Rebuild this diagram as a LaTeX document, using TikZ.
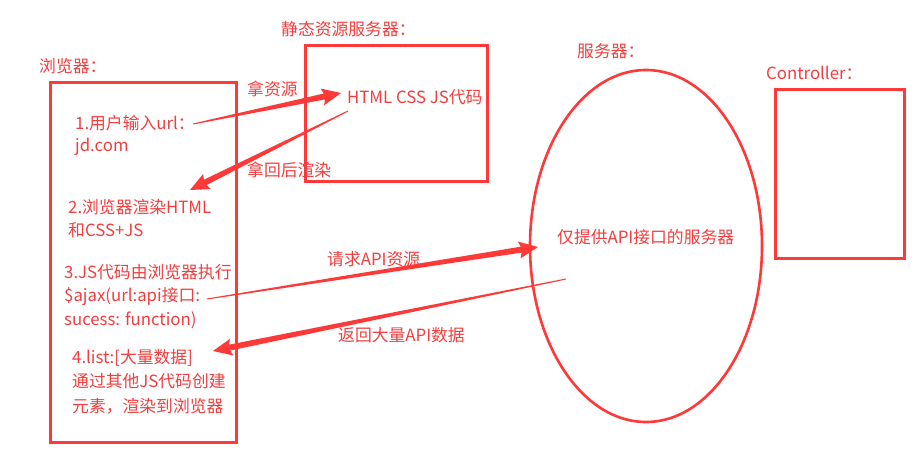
\documentclass[tikz,border=0pt]{standalone}
\usepackage{fontspec}
\setmainfont{Noto Sans CJK SC}
\usetikzlibrary{calc}
\definecolor{redline}{RGB}{255,56,56}
\definecolor{redtext}{RGB}{242,62,62}
\tikzset{
  frame/.style={draw=redline, line width=3pt, inner sep=0pt},
  txt/.style={anchor=base west, inner sep=0pt, text=redtext, font=\fontsize{16.8pt}{20pt}\selectfont},
  arrowfill/.style={fill=redline},
}
\newcommand\taper[2]{%
  \path let \p1=($(#2)-(#1)$) in \pgfextra{%
    \pgfmathsetmacro\tang{atan2(\y1,\x1)}%
    \pgfmathsetmacro\tlen{veclen(\x1,\y1)}%
    \xdef\tang{\tang}\xdef\tlen{\tlen}};
  \fill[arrowfill, shift={(#1)}, rotate=\tang]
    (0,0.5) -- (\tlen-17,3) -- (\tlen-19,8.5) -- (\tlen,0) -- (\tlen-19,-8.5) -- (\tlen-17,-3) -- (0,-0.5) -- cycle;
}
\begin{document}
\begin{tikzpicture}[x=1pt,y=-1pt]
\useasboundingbox (0,0) rectangle (923,465);
\fill[white] (0,0) rectangle (923,465);

% boxes
\node[frame, minimum width=186pt, minimum height=359pt] (browser) at (143,262.5) {};
\node[frame, minimum width=182pt, minimum height=136pt] (static) at (396,114) {};
\node[frame, minimum width=129pt, minimum height=168pt] (ctrl) at (839.5,174) {};
\draw[redline, line width=2.6pt] (646,246) ellipse [x radius=116, y radius=176];
\coordinate (server) at (646,246);

% titles
\node[txt] (tbrowser) at (39,73) {浏览器：};
\node[txt] (tstatic) at (281,36) {静态资源服务器：};
\node[txt] (tserver) at (577,58) {服务器：};
\node[txt] (tctrl) at (766,80) {Controller：};

% contents
\node[txt] (code) at (347,104) {HTML CSS JS代码};
\node[txt] (api) at (557,243) {仅提供API接口的服务器};

\node[txt] (s1a) at (75,130) {1.用户输入url：};
\node[txt] (s1b) at (75,152) {jd.com};
\node[txt] (s2a) at (68,213) {2.浏览器渲染HTML};
\node[txt] (s2b) at (68,236) {和CSS+JS};
\node[txt] (s3a) at (64,278) {3.JS代码由浏览器执行};
\node[txt] (s3b) at (64,301) {\$ajax(url:api接口:};
\node[txt] (s3c) at (64,325) {sucess: function)};
\node[txt] (s4a) at (72,363) {4.list:[大量数据]};
\node[txt] (s4b) at (72,387) {通过其他JS代码创建};
\node[txt] (s4c) at (72,412) {元素，渲染到浏览器};

% arrow labels
\node[txt] (l1) at (247,96) {拿资源};
\node[txt] (l2) at (247,177) {拿回后渲染};
\node[txt] (l3) at (327,265) {请求API资源};
\node[txt] (l4) at (338,341) {返回大量API数据};

% arrow endpoints
\coordinate (a1s) at (193,124);
\coordinate (a1e) at (341,93);
\coordinate (a2s) at (348,111);
\coordinate (a2e) at (190,190);
\coordinate (a3s) at (207,299);
\coordinate (a3e) at (538,247);
\coordinate (a4s) at (566,279);
\coordinate (a4e) at (213,351);

\taper{a1s}{a1e}
\taper{a2s}{a2e}
\taper{a3s}{a3e}
\taper{a4s}{a4e}
\end{tikzpicture}
\end{document}
